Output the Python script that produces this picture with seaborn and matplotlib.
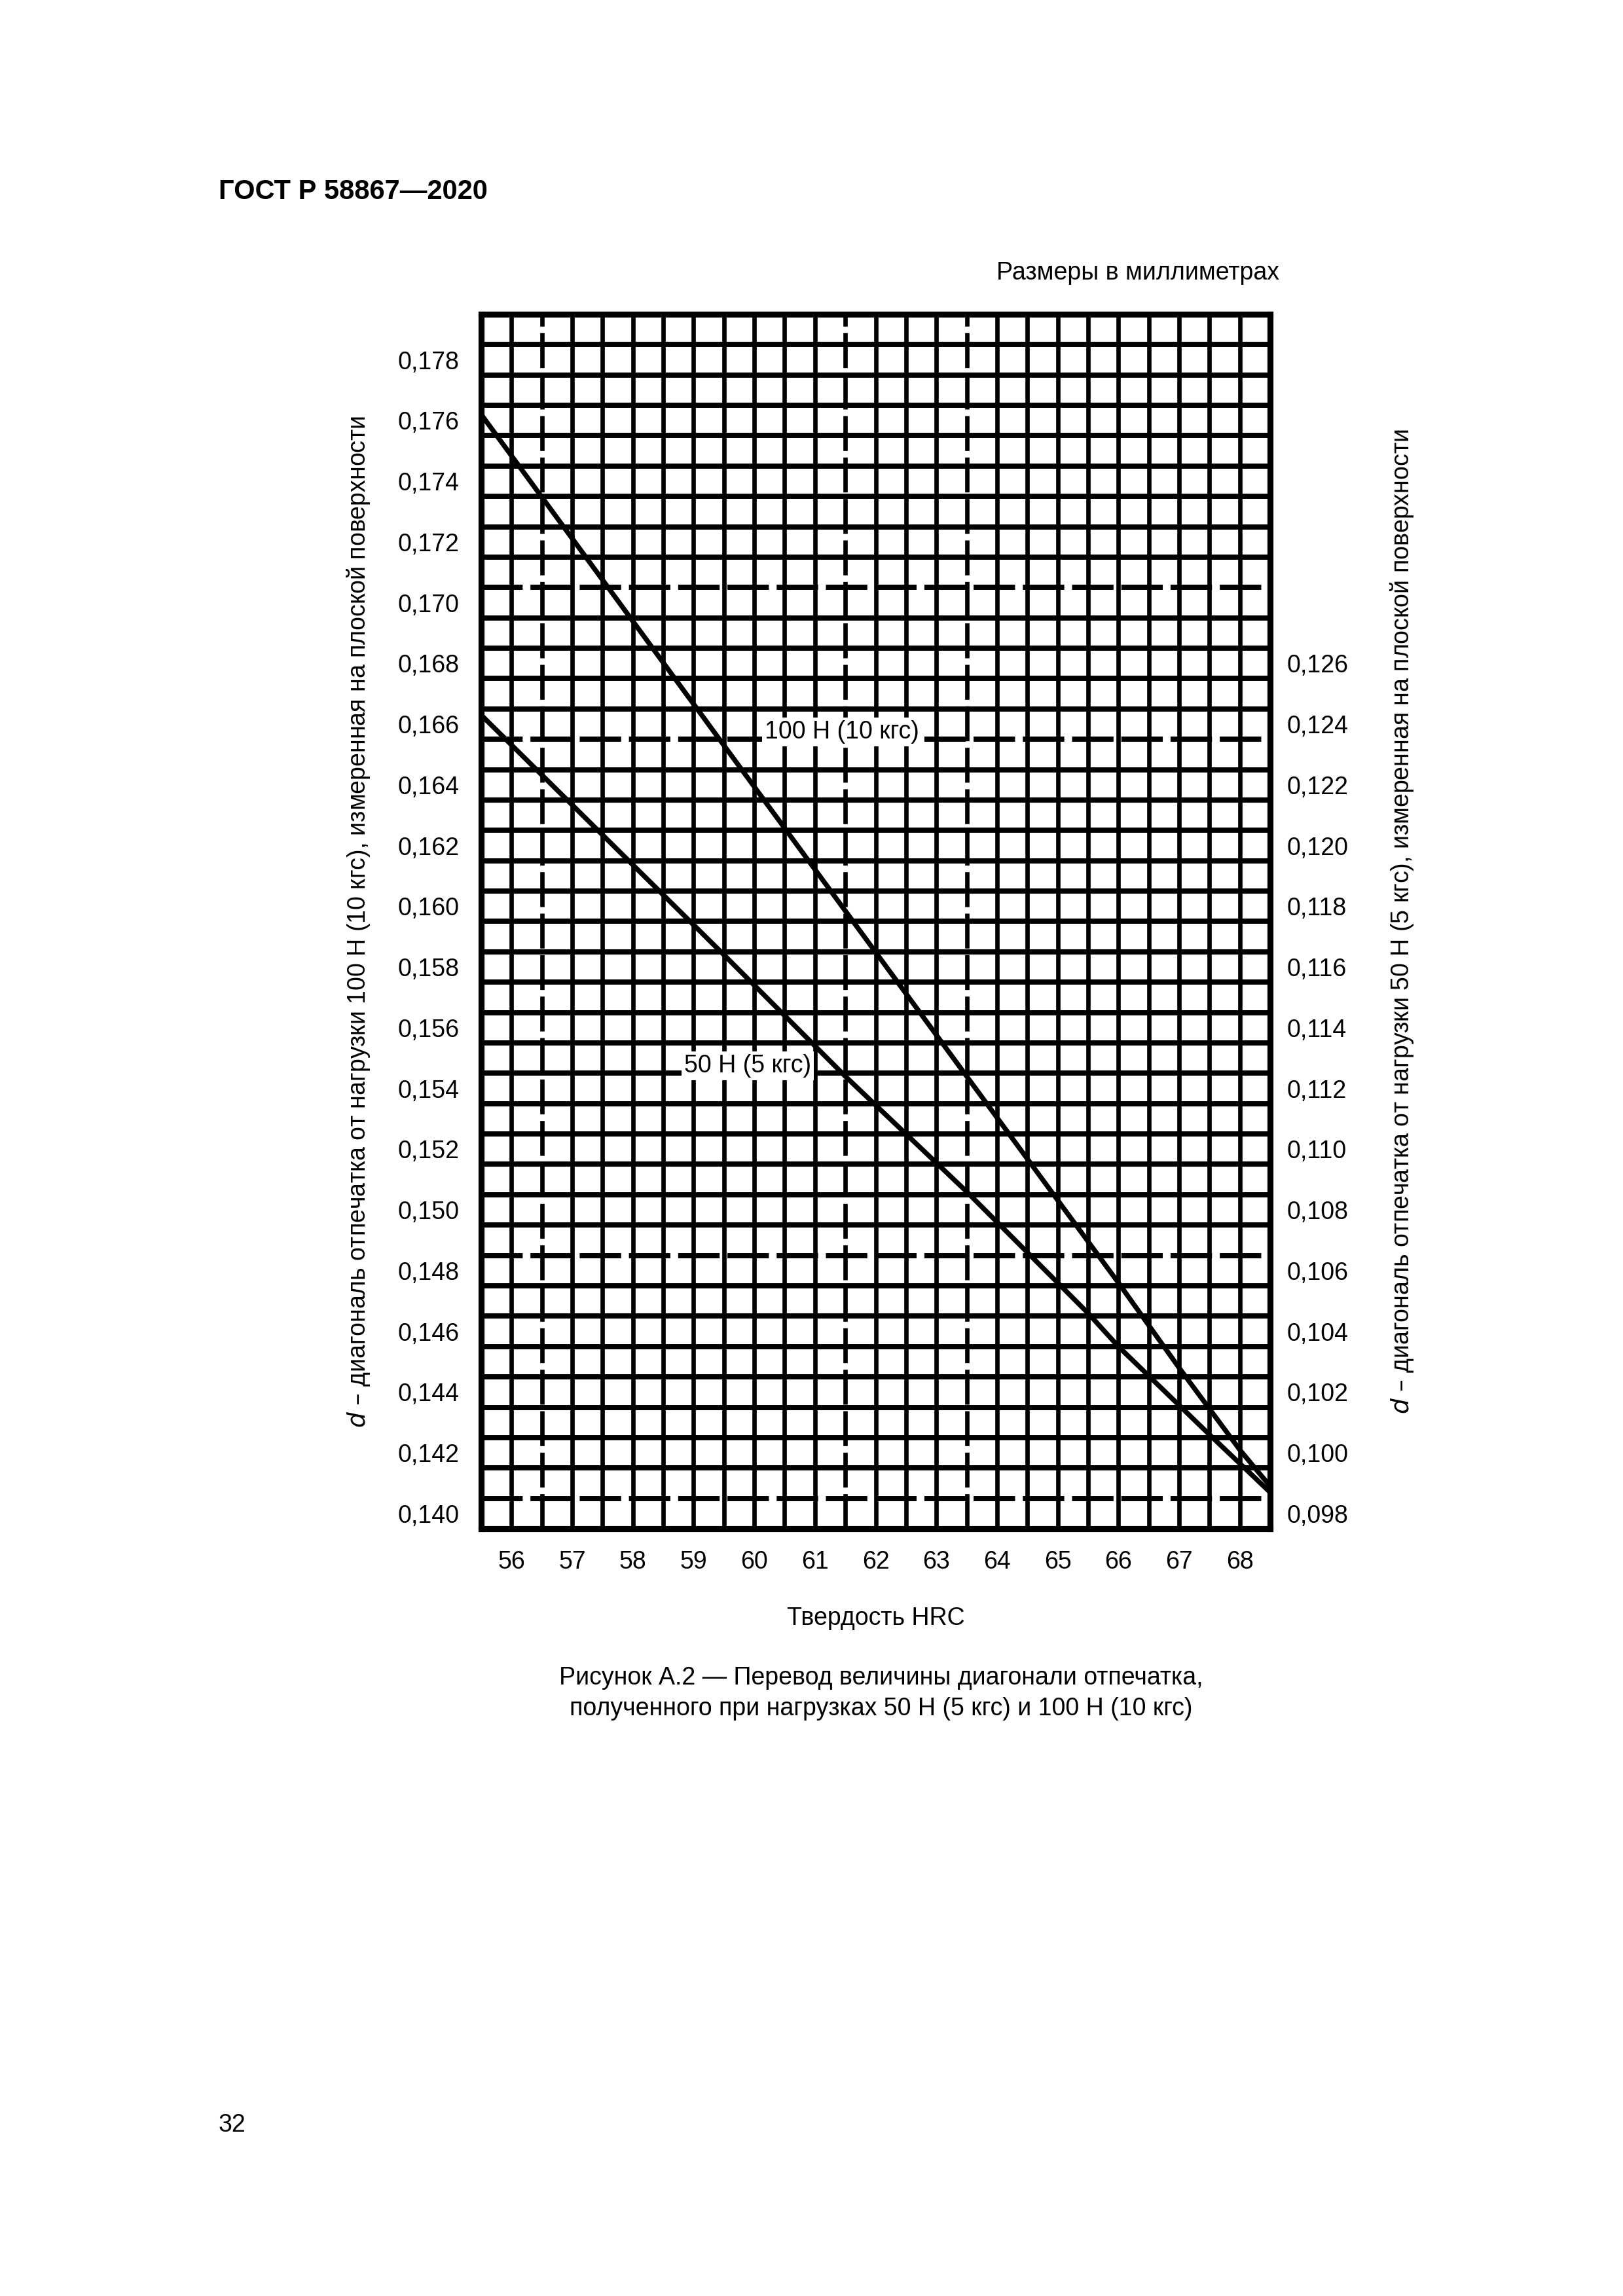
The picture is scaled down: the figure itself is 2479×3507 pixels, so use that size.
import numpy as np
import pandas as pd
import matplotlib
matplotlib.use("Agg")
import matplotlib.pyplot as plt
import seaborn as sns

plt.rcParams["font.family"] = "Liberation Sans"

# Data (HRC vs diagonal d, mm)
hrc_100 = [55.5, 59.5, 63.5, 66.0, 67.0, 68.0, 68.5]
d_100 = [0.1762, 0.1653, 0.1544, 0.1476, 0.1448, 0.1421, 0.1409]
hrc_50 = [55.5, 59.5, 61.5, 63.5, 65.5, 66.0, 67.5, 68.5]
d_50 = [0.1243, 0.1164, 0.1124, 0.1086, 0.1046, 0.1035, 0.1006, 0.0987]  # right axis units
x_ticks = [56, 57, 58, 59, 60, 61, 62, 63, 64, 65, 66, 67, 68]
left_ticks = [0.140, 0.142, 0.144, 0.146, 0.148, 0.150, 0.152, 0.154, 0.156, 0.158,
              0.160, 0.162, 0.164, 0.166, 0.168, 0.170, 0.172, 0.174, 0.176, 0.178]
right_ticks = [0.098, 0.100, 0.102, 0.104, 0.106, 0.108, 0.110, 0.112, 0.114,
               0.116, 0.118, 0.120, 0.122, 0.124, 0.126]
OFFSET = 0.042  # left value - right value

fig = plt.figure(figsize=(2479/300, 3507/300), dpi=300)
ax = fig.add_axes([735/2479, 1-2335/3507, 1205/2479, 1855/3507])
ylo, yhi = 0.1395, 0.1795
xlo, xhi = 55.5, 68.5
ax.set_xlim(xlo, xhi)
ax.set_ylim(ylo, yhi)

# grid
dashed_x = [56.5, 61.5, 63.5]
for xv in np.arange(56.0, 68.5, 0.5):
    ls = (0, (8, 1.5)) if xv in dashed_x else "-"
    ax.axvline(xv, color="black", lw=1.6, ls=ls, zorder=1)
dashed_y = [0.1405, 0.1485, 0.1655, 0.1705]
for k in range(1, 40):
    yv = round(ylo + k * 0.001, 4)
    ls = (0, (8, 1.5)) if yv in dashed_y else "-"
    ax.axhline(yv, color="black", lw=1.9, ls=ls, zorder=1)

df100 = pd.DataFrame({"HRC": hrc_100, "d": d_100})
df50 = pd.DataFrame({"HRC": hrc_50, "d": np.array(d_50) + OFFSET})
sns.lineplot(data=df100, x="HRC", y="d", ax=ax, color="black", lw=1.8, zorder=3)
sns.lineplot(data=df50, x="HRC", y="d", ax=ax, color="black", lw=1.8, zorder=3)

ax.text(61.44, 0.16575, "100 Н (10 кгс)", fontsize=9, ha="center", va="center", zorder=4,
        bbox=dict(facecolor="white", edgecolor="none", pad=1))
ax.text(59.89, 0.15475, "50 Н (5 кгс)", fontsize=9, ha="center", va="center", zorder=4,
        bbox=dict(facecolor="white", edgecolor="none", pad=1))

for s in ax.spines.values():
    s.set_linewidth(2.2)
ax.set_xticks(x_ticks)
ax.set_xticklabels([str(v) for v in x_ticks], fontsize=9)
ax.set_yticks(left_ticks)
ax.set_yticklabels([f"{v:.3f}".replace(".", ",") for v in left_ticks], fontsize=9)
ax.tick_params(length=0, pad=8)
ax.set_xlabel("Твердость HRC", fontsize=9, labelpad=12)
ax.set_ylabel("")

ax2 = ax.twinx()
ax2.set_ylim(ylo - OFFSET, yhi - OFFSET)
ax2.set_yticks(right_ticks)
ax2.set_yticklabels([f"{v:.3f}".replace(".", ",") for v in right_ticks], fontsize=9)
ax2.tick_params(length=0, pad=6)
for s in ax2.spines.values():
    s.set_visible(False)

midy = 1 - (480 + 2335) / 2 / 3507
fig.text(548/2479, midy, r"$d$ – диагональ отпечатка от нагрузки 100 Н (10 кгс), измеренная на плоской поверхности",
         rotation=90, ha="center", va="center", fontsize=9)
fig.text(2141/2479, midy, r"$d$ – диагональ отпечатка от нагрузки 50 Н (5 кгс), измеренная на плоской поверхности",
         rotation=90, ha="center", va="center", fontsize=9)

fig.text(334/2479, 1-293/3507, "ГОСТ Р 58867—2020", fontsize=10, fontweight="bold", ha="left", va="center")
fig.text(1954/2479, 1-417/3507, "Размеры в миллиметрах", fontsize=9, ha="right", va="center")
fig.text(1346/2479, 1-2563/3507, "Рисунок А.2 — Перевод величины диагонали отпечатка,", fontsize=9, ha="center", va="center")
fig.text(1346/2479, 1-2610/3507, "полученного при нагрузках 50 Н (5 кгс) и 100 Н (10 кгс)", fontsize=9, ha="center", va="center")
fig.text(334/2479, 1-3246/3507, "32", fontsize=9, ha="left", va="center")

fig.savefig("out.png", dpi=300)
